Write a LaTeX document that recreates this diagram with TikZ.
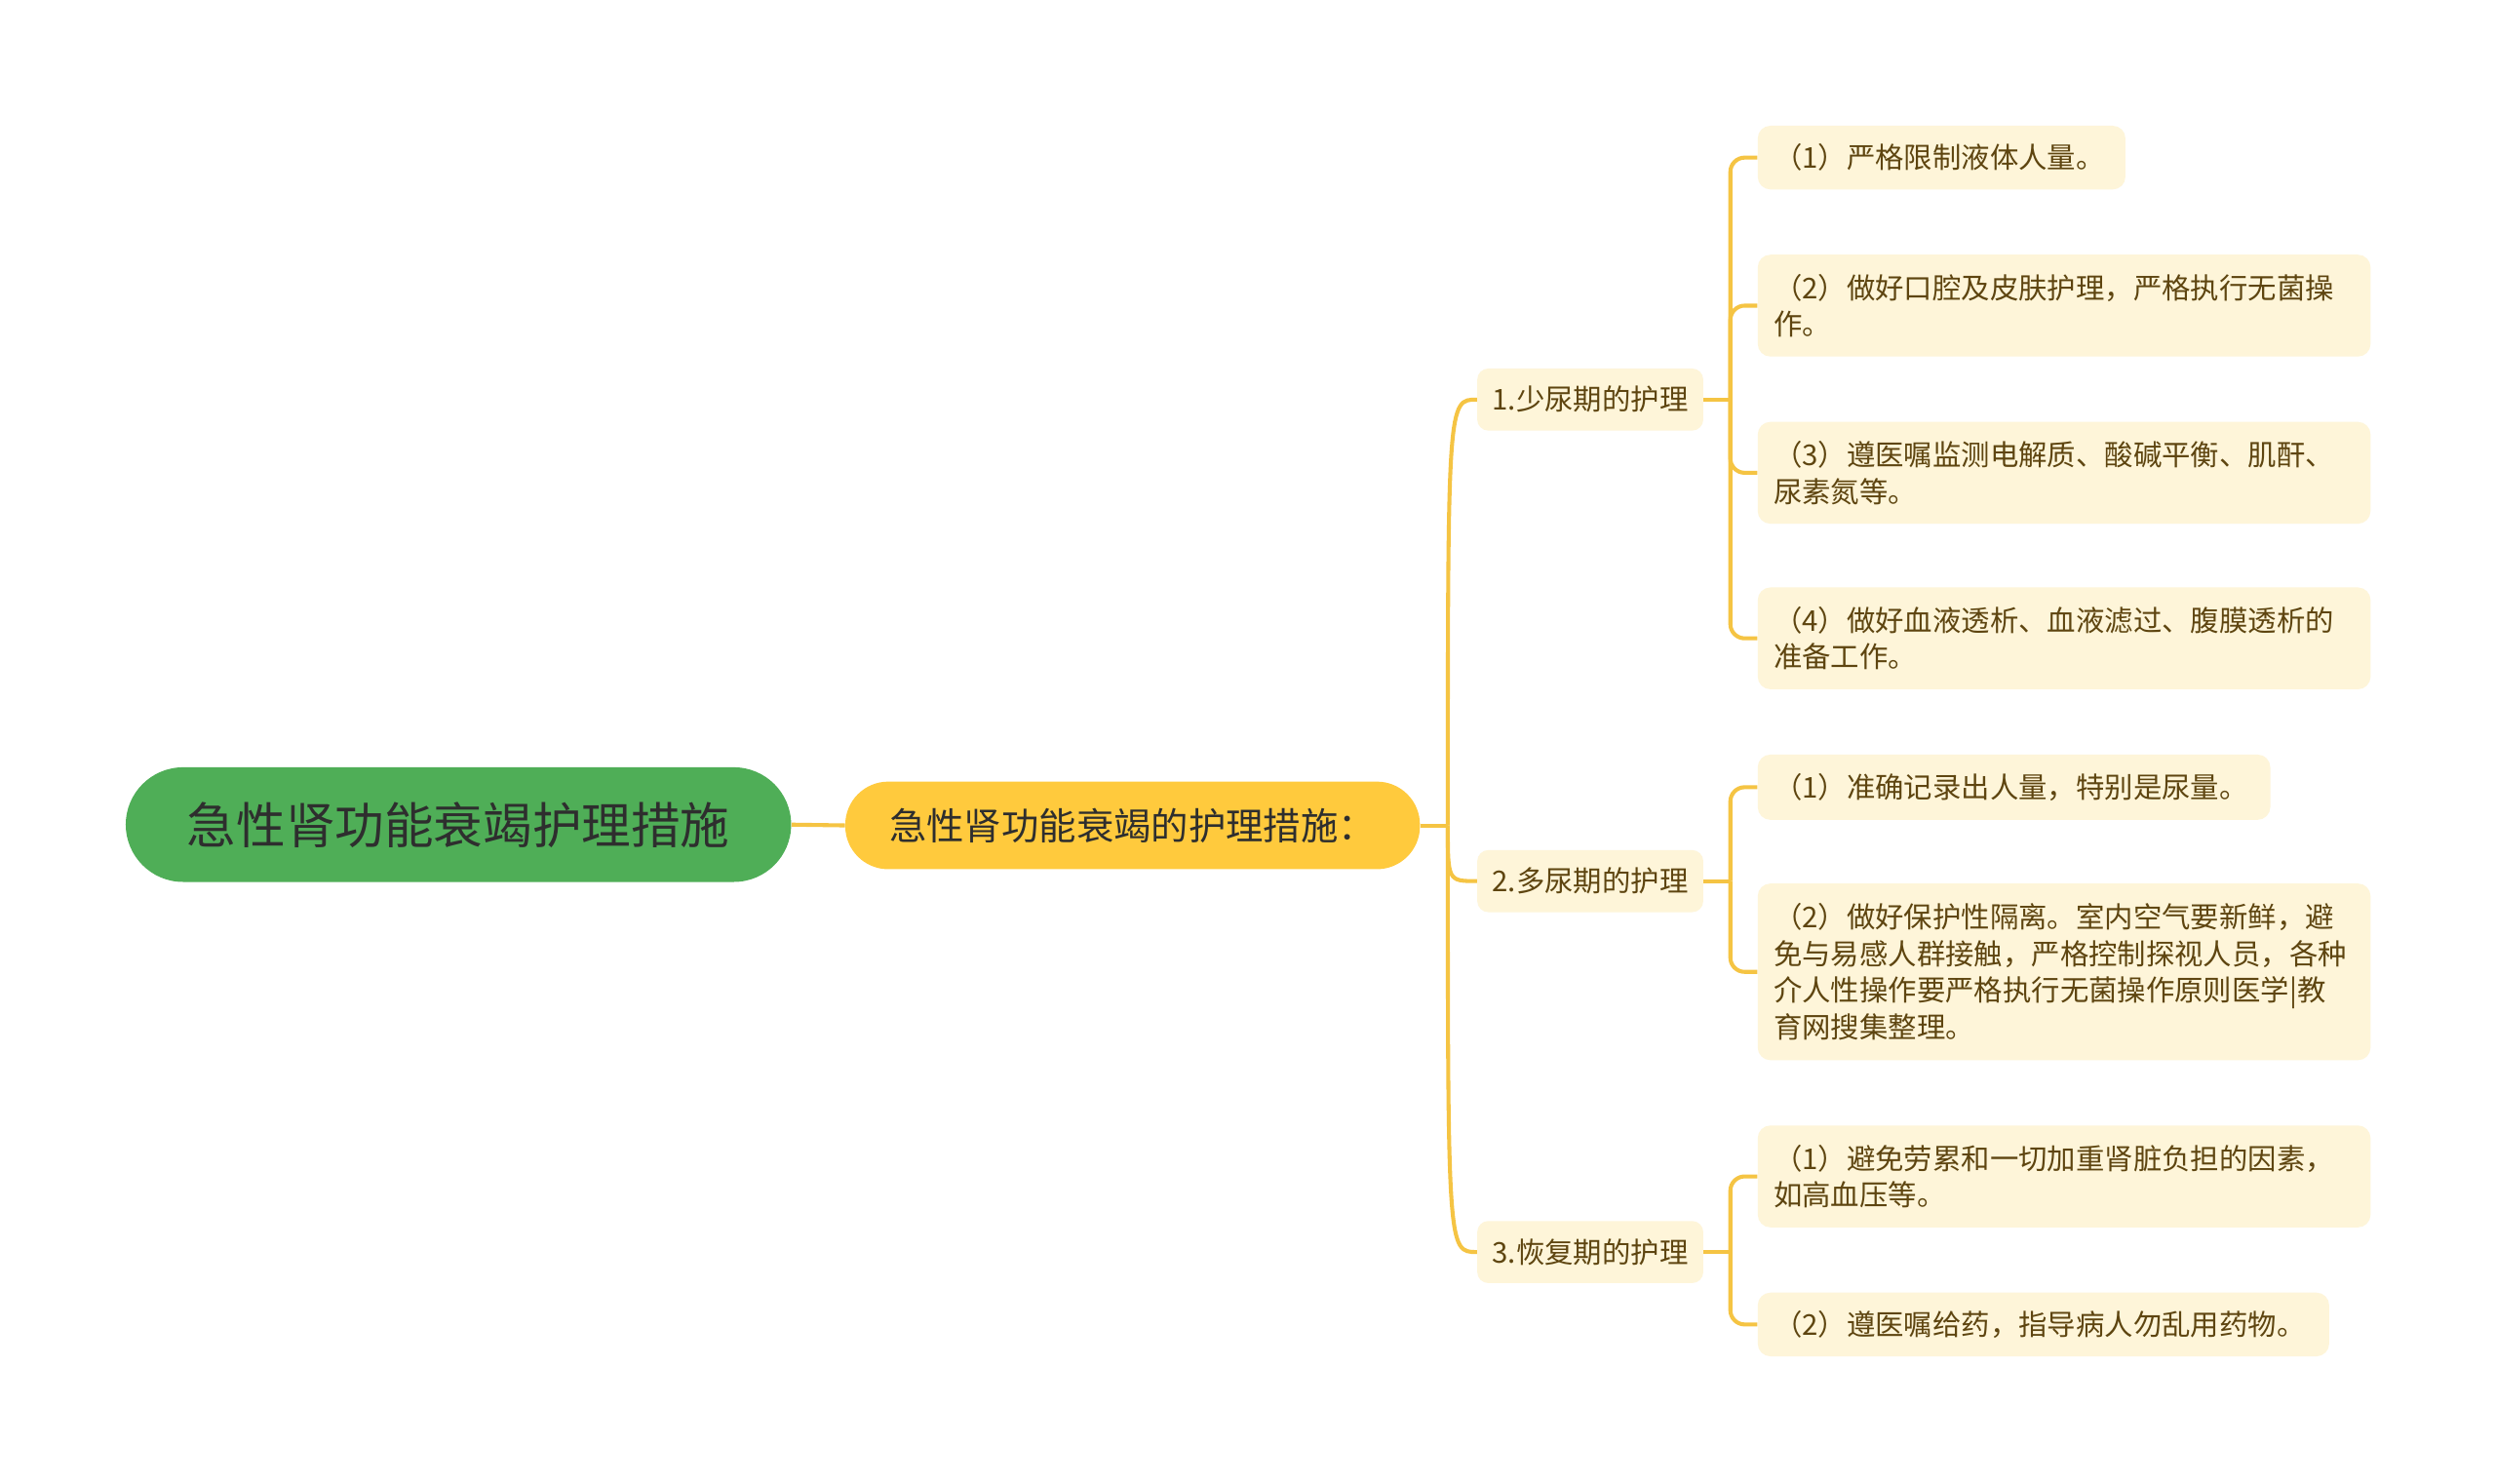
\documentclass[tikz,border=0pt]{standalone}
\usepackage{fontspec}
\setmainfont{Noto Sans CJK SC}
\definecolor{rootg}{HTML}{4FAE57}
\definecolor{mainy}{HTML}{FFCA3D}
\definecolor{connc}{HTML}{F5C443}
\definecolor{leaff}{HTML}{FEF5D9}
\definecolor{leaft}{HTML}{5E4510}
\definecolor{darkt}{HTML}{2E2E2E}
\tikzset{
  rootbox/.style={fill=rootg, text=darkt, rounded corners=36pt, minimum width=418pt, minimum height=72pt, inner sep=0pt, font=\fontsize{31}{36}\selectfont},
  mainbox/.style={fill=mainy, text=darkt, rounded corners=27pt, minimum width=361pt, minimum height=55pt, inner sep=0pt, font=\fontsize{23.5}{28}\selectfont},
  midbox/.style={fill=leaff, text=leaft, rounded corners=7pt, minimum width=142pt, minimum height=39pt, inner sep=0pt, font=\fontsize{18}{23}\selectfont},
  leafbox/.style={fill=leaff, text=leaft, rounded corners=8pt, anchor=west, inner xsep=10pt, inner ysep=0pt, align=left, font=\fontsize{18}{23}\selectfont},
  conn/.style={draw=connc, line width=2.5pt},
}
\begin{document}
\begin{tikzpicture}[x=1pt,y=-1pt]
\useasboundingbox (0,0) rectangle (1568,932);
\fill[white] (0,0) rectangle (1568,932);

\node[rootbox] (root) at (288,518) {急性肾功能衰竭护理措施};
\node[mainbox] (main) at (711.5,518.5) {急性肾功能衰竭的护理措施：};

\node[midbox] (a) at (999,251) {1.少尿期的护理};
\node[midbox] (b) at (999,553.5) {2.多尿期的护理};
\node[midbox] (c) at (999,786.5) {3.恢复期的护理};

\node[leafbox, text width=211pt, minimum height=40pt] (a1) at (1104,99) {（1）严格限制液体人量。};
\node[leafbox, text width=365pt, minimum height=64pt] (a2) at (1104,192) {（2）做好口腔及皮肤护理，严格执行无菌操\\作。};
\node[leafbox, text width=365pt, minimum height=64pt] (a3) at (1104,297) {（3）遵医嘱监测电解质、酸碱平衡、肌酐、\\尿素氮等。};
\node[leafbox, text width=365pt, minimum height=64pt] (a4) at (1104,401) {（4）做好血液透析、血液滤过、腹膜透析的\\准备工作。};

\node[leafbox, text width=302pt, minimum height=41pt] (b1) at (1104,494.5) {（1）准确记录出人量，特别是尿量。};
\node[leafbox, text width=365pt, minimum height=111pt] (b2) at (1104,610.5) {（2）做好保护性隔离。室内空气要新鲜，避\\免与易感人群接触，严格控制探视人员，各种\\介人性操作要严格执行无菌操作原则医学|教\\育网搜集整理。};

\node[leafbox, text width=365pt, minimum height=64pt] (c1) at (1104,739) {（1）避免劳累和一切加重肾脏负担的因素，\\如高血压等。};
\node[leafbox, text width=339pt, minimum height=40pt] (c2) at (1104,832) {（2）遵医嘱给药，指导病人勿乱用药物。};

\draw[conn] (root.east) -- (main.west);
\coordinate (j) at (909.5,518.5);
\draw[conn] (main.east) -- (j);
\draw[conn] (j) .. controls (j |- a.west) .. (a.west);
\draw[conn] (j) .. controls (j |- b.west) .. (b.west);
\draw[conn] (j) .. controls (j |- c.west) .. (c.west);

\coordinate (ja) at (1087,251);
\coordinate (jb) at (1087,553.5);
\coordinate (jc) at (1087,786.5);
\draw[conn] (a.east) -- (ja);
\draw[conn] (b.east) -- (jb);
\draw[conn] (c.east) -- (jc);
\foreach \l in {a1,a2,a3,a4} { \draw[conn, rounded corners=9pt] (ja) |- (\l.west); }
\foreach \l in {b1,b2} { \draw[conn, rounded corners=9pt] (jb) |- (\l.west); }
\foreach \l in {c1,c2} { \draw[conn, rounded corners=9pt] (jc) |- (\l.west); }
\end{tikzpicture}
\end{document}
